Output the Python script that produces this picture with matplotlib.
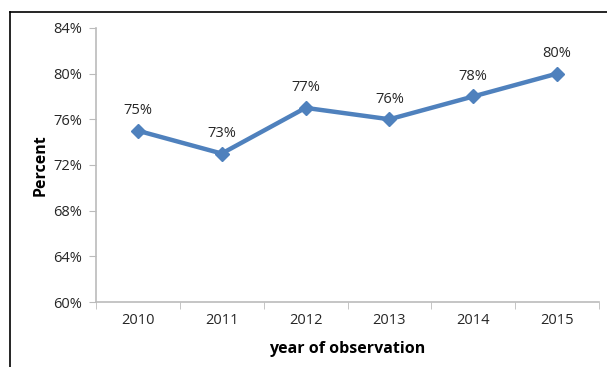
import numpy as np
import matplotlib.pyplot as plt
from matplotlib.lines import Line2D

years = ['2010', '2011', '2012', '2013', '2014', '2015']
percent = [75, 73, 77, 76, 78, 80]
yticks = [60, 64, 68, 72, 76, 80, 84]

plt.rcParams['font.family'] = ['Open Sans', 'DejaVu Sans']

fig = plt.figure(figsize=(6.07, 3.67), dpi=100)
ax = fig.add_axes([0.158, 0.177, 0.829, 0.747])

x = np.arange(len(years))
ax.plot(x, percent, color='#4F81BD', lw=3.2, marker='D', ms=7, solid_joinstyle='round')
for xi, v in zip(x, percent):
    ax.annotate(f'{v}%', (xi, v), xytext=(0, 9), textcoords='offset points',
                ha='center', va='bottom', fontsize=10.5, color='#262626')

ax.set_xlim(-0.5, len(years) - 0.5)
ax.set_ylim(60, 84)
ax.set_yticks(yticks)
ax.set_yticklabels([f'{t}%' for t in yticks], fontsize=10.5, color='#262626')
ax.set_xticks(x)
ax.set_xticklabels(years, fontsize=10.5, color='#262626')
ax.set_xticks(np.arange(-0.5, len(years)), minor=True)
ax.tick_params(axis='x', which='major', length=0, pad=8)
ax.tick_params(axis='x', which='minor', length=5, color='#BBBBBB', direction='out')
ax.tick_params(axis='y', length=5, color='#BBBBBB', pad=5)

for s in ['top', 'right']:
    ax.spines[s].set_visible(False)
for s in ['left', 'bottom']:
    ax.spines[s].set_color('#BBBBBB')
    ax.spines[s].set_linewidth(1.2)

ax.set_xlabel('year of observation', fontsize=11.5, fontweight='bold', labelpad=9)
ax.set_ylabel('Percent', fontsize=11.5, fontweight='bold', labelpad=3)

# outer frame (top and left edges)
fig.add_artist(Line2D([10 / 607, 1], [1 - 12 / 367, 1 - 12 / 367], color='black', lw=1.2))
fig.add_artist(Line2D([10 / 607, 10 / 607], [0, 1 - 12 / 367], color='black', lw=1.2))

fig.savefig('out.png', dpi=100)
